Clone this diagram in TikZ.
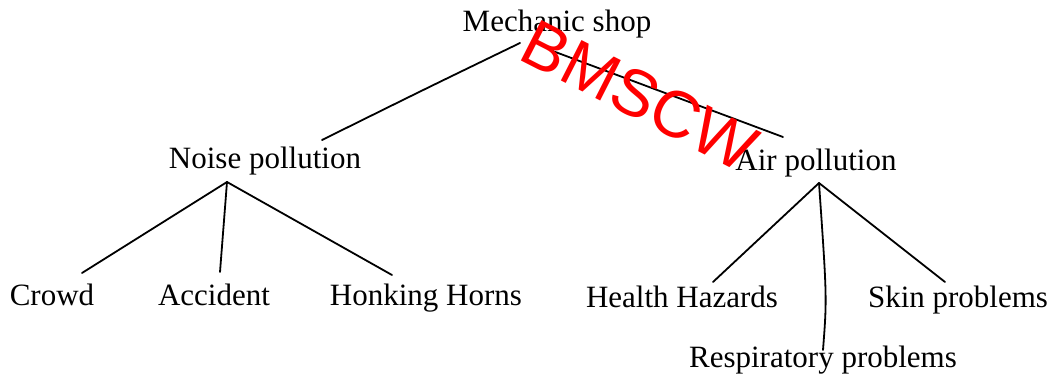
\documentclass[tikz,border=0pt]{standalone}
\usepackage{fontspec}
\setmainfont{Liberation Serif}
\newfontfamily\wmfont{Liberation Sans}
\begin{document}
\begin{tikzpicture}[x=1pt,y=-1pt,
  lbl/.style={anchor=base,inner sep=0pt,font=\fontsize{31}{31}\selectfont},
  conn/.style={line width=1.8pt,black,line cap=round}]
\useasboundingbox (0,0) rectangle (1053,387);
\node[lbl] (ms) at (557,32) {Mechanic shop};
\node[lbl] (np) at (265,169) {Noise pollution};
\node[lbl] (ap) at (816,171) {Air pollution};
\node[lbl] (cr) at (52,306) {Crowd};
\node[lbl] (ac) at (214,306) {Accident};
\node[lbl] (hh) at (426,306) {Honking Horns};
\node[lbl] (hz) at (682,308) {Health Hazards};
\node[lbl] (sk) at (958,308) {Skin problems};
\node[lbl] (rp) at (823,368) {Respiratory problems};
% connectors
\draw[conn] ([shift={(-37,11)}]ms.base) .. controls ([shift={(-132,57)}]ms.base) .. ([shift={(57,-29)}]np.base);
\draw[conn] ([shift={(-7,18)}]ms.base) -- ([shift={(-33,-34)}]ap.base);
\draw[conn] ([shift={(-38,13)}]np.base) -- ([shift={(30,-33)}]cr.base);
\draw[conn] ([shift={(-38,13)}]np.base) -- ([shift={(6,-34)}]ac.base);
\draw[conn] ([shift={(-38,13)}]np.base) -- ([shift={(-34,-31)}]hh.base);
\draw[conn] ([shift={(3,12)}]ap.base) -- ([shift={(31,-26)}]hz.base);
\draw[conn] ([shift={(3,12)}]ap.base) .. controls ([shift={(4,-70)}]rp.base) .. ([shift={(0,-18)}]rp.base);
\draw[conn] ([shift={(3,12)}]ap.base) -- ([shift={(-13,-26)}]sk.base);
% watermark
\node[inner sep=0pt,rotate=-27,text=red,font=\wmfont\fontsize{66}{66}\selectfont] (wm) at (640,96) {BMSCW};
\end{tikzpicture}
\end{document}
